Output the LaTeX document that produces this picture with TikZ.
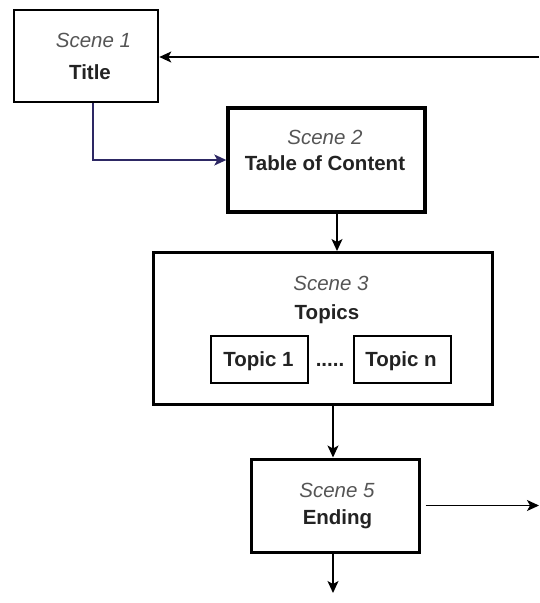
\documentclass[tikz,border=0pt]{standalone}
\usepackage{fontspec}
\setmainfont{Liberation Sans}
\usetikzlibrary{arrows.meta}

\definecolor{scenegray}{RGB}{85,85,85}
\definecolor{textdark}{RGB}{35,35,35}
\definecolor{linkblue}{RGB}{45,40,100}

\begin{document}
\begin{tikzpicture}[x=1pt, y=-1pt,
		box/.style={draw, rectangle, inner sep=0pt},
		txt/.style={inner sep=0pt, text height=15pt, text depth=0pt, font=\fontsize{20.5}{24}\selectfont},
		scn/.style={txt, text=scenegray, font=\fontsize{20.5}{24}\selectfont\itshape},
		ttl/.style={txt, text=textdark, font=\fontsize{20.5}{24}\selectfont\bfseries},
		link/.style={line width=1.4pt, -{Stealth[length=12pt, width=11pt, inset=3pt]}}
	]
				\useasboundingbox (0,0) rectangle (539,603);
				% scene boxes
				\node[box, line width=2.6pt, minimum width=144pt, minimum height=92pt] (s1) at (86,56) {};
				\node[box, line width=3.4pt, minimum width=197pt, minimum height=104pt] (s2) at (326.5,160) {};
				\node[box, line width=3pt, minimum width=339pt, minimum height=152pt] (s3) at (322.5,328.5) {};
				\node[box, line width=3pt, minimum width=168pt, minimum height=93pt] (s5) at (335,505.5) {};
				\node[box, line width=1.2pt, minimum width=97pt, minimum height=47pt] (t1) at (259.5,359.5) {};
				\node[box, line width=1.2pt, minimum width=97pt, minimum height=47pt] (tn) at (402.5,359.5) {};
				% texts
				\node[scn] (s1a) at (93.5,40) {Scene 1};
				\node[ttl] (s1b) at (90,72) {Title};
				\node[scn] (s2a) at (325,137) {Scene 2};
				\node[ttl] (s2b) at (325,163) {Table of Content};
				\node[scn] (s3a) at (331,283) {Scene 3};
				\node[ttl] (s3b) at (327,312) {Topics};
				\node[ttl] (t1a) at (258.5,359) {Topic 1};
				\node[ttl] (dots) at (330,359) {.....};
				\node[ttl] (tna) at (401,359) {Topic n};
				\node[scn] (s5a) at (337,490) {Scene 5};
				\node[ttl] (s5b) at (337.5,517) {Ending};
				% loose ends
				\coordinate (in1) at (539,57);
				\coordinate (out1) at (539,505.5);
				\coordinate (out2) at (333,593);
				% connectors
				\draw[link] (in1) -- (s1.east |- in1);
				\draw[link, linkblue] ([xshift=7pt]s1.south) |- (s2.west);
				\draw[link] (s2.south -| s5a) -- (s3.north -| s5a);
				\draw[link] (s3.south -| out2) -- (s5.north -| out2);
				\draw[link, shorten <=5pt] (s5.east) -- (out1);
				\draw[link] (s5.south -| out2) -- (out2);
			\end{tikzpicture}
\end{document}
